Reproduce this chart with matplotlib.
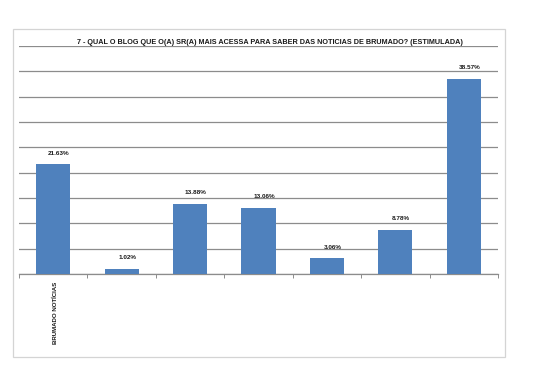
import numpy as np
import matplotlib.pyplot as plt
from matplotlib.patches import Rectangle
import matplotlib.transforms as mtransforms

# data
categories = ["BRUMADO NOTÍCIAS", "", "", "", "", "", ""]
values = [21.63, 1.02, 13.88, 13.06, 3.06, 8.78, 38.57]
value_labels = ["21.63%", "1.02%", "13.88%", "13.06%", "3.06%", "8.78%", "38.57%"]
title = "7 - QUAL O BLOG QUE O(A) SR(A) MAIS ACESSA PARA SABER DAS NOTICIAS DE BRUMADO? (ESTIMULADA)"

plt.rcParams['font.family'] = ['Liberation Sans', 'DejaVu Sans']

fig = plt.figure(figsize=(5.4, 3.71), dpi=100)
fig.patch.set_facecolor('white')

# outer chart frame
fig.patches.append(Rectangle((13/540, 1 - 357/371), (505 - 13)/540, (357 - 29)/371,
                             transform=fig.transFigure, fill=False,
                             edgecolor='#d4d4d4', linewidth=0.9))

ax = fig.add_axes([19/540, 1 - 274/371, (498 - 19)/540, (274 - 46)/371])

x = np.arange(len(values))
ax.bar(x, values, width=0.5, color='#4f81bd', zorder=3)

ax.set_xlim(-0.5, len(values) - 0.5)
ax.set_ylim(0, 45)
ax.set_yticks(np.arange(0, 46, 5))
ax.yaxis.grid(True, color='#8c8c8c', linewidth=0.9)
ax.tick_params(axis='y', length=0, labelleft=False)

for s in ['left', 'right', 'top']:
    ax.spines[s].set_visible(False)
ax.spines['bottom'].set_color('#8c8c8c')
ax.spines['bottom'].set_linewidth(0.9)

# category boundary ticks
ax.set_xticks(np.arange(-0.5, len(values), 1.0))
ax.set_xticklabels([])
ax.tick_params(axis='x', direction='out', length=3, width=0.7, color='#8c8c8c')

# category labels (rotated)
for xi, lab in zip(x, categories):
    if lab:
        ax.text(xi + 0.03, -1.6, lab, rotation=90, ha='center', va='top',
                fontsize=4.4, fontweight='bold', color='#1a1a1a')

# value labels
for xi, v, lab in zip(x, values, value_labels):
    ax.annotate(lab, (xi, v), xytext=(4, 8), textcoords='offset points',
                ha='center', va='center', fontsize=4.6, fontweight='bold',
                color='#1a1a1a')

# title sitting on the top gridline (the line acts as underline)
trans = mtransforms.blended_transform_factory(fig.transFigure, ax.transData)
ax.text(270/540, 45.3, title, transform=trans, ha='center', va='baseline',
        fontsize=5.2, fontweight='bold', color='#1a1a1a', zorder=5)

fig.savefig('out.png', dpi=100)
